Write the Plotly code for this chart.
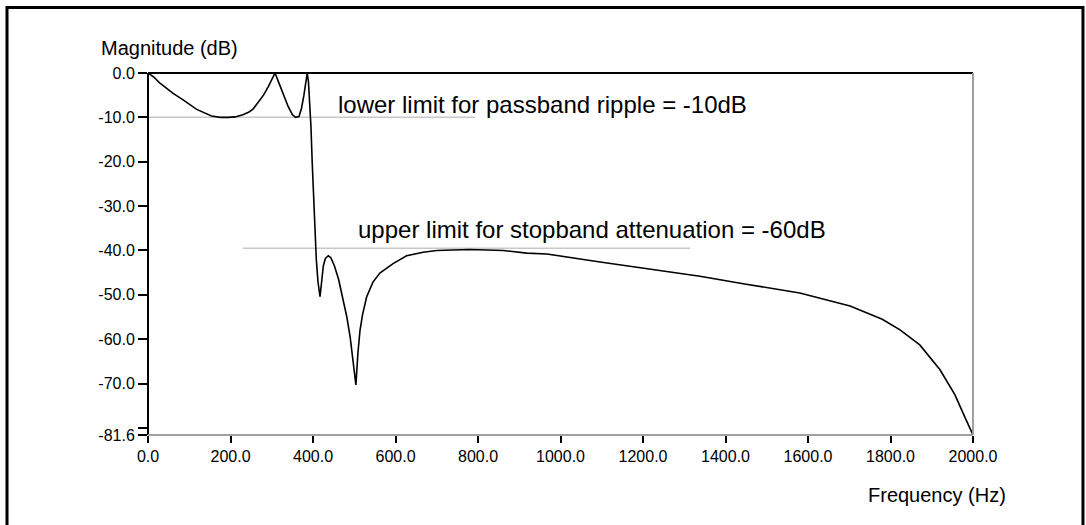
import plotly.graph_objects as go

# Filter magnitude response
freq_hz = [0, 15, 29, 45, 61, 86, 118, 154, 175, 195, 211, 230, 245, 255, 268, 280, 292, 300, 308,
           318, 328, 340, 350, 358, 366, 372, 378, 383, 386,
           389, 392, 395, 398, 401, 404, 408, 412, 417, 421, 425, 430, 437, 443, 452, 462, 472, 482,
           490, 497, 504, 509, 514, 520, 530, 545, 562, 595, 627, 667, 700, 780, 861, 918, 967,
           1096, 1200, 1338, 1450, 1580, 1702, 1780, 1823, 1871, 1920, 1956, 1980, 2000]
magnitude_db = [0, -1.0, -2.3, -3.5, -4.6, -6.1, -8.2, -9.7, -10.0, -10.0, -9.9, -9.4, -8.8, -8.1, -6.6, -5.0, -3.0, -1.6, 0,
                -2.4, -4.8, -7.6, -9.4, -10.0, -9.8, -8.0, -5.0, -2.0, 0,
                -2, -6, -12, -20, -28, -35, -42, -47, -50.4, -47, -43.5, -41.8, -41.2, -41.6, -43.5, -46.5, -50.5, -55,
                -59.5, -64.5, -70.3, -63, -58, -54.5, -50.5, -47.2, -45.1, -42.9, -41.2, -40.4, -40.0, -39.8, -40.0, -40.6, -40.8,
                -42.6, -44.0, -45.8, -47.6, -49.6, -52.5, -55.5, -57.9, -61.3, -66.9, -72.5, -77.5, -81.6]

# Limit lines
passband_limit_x = [0, 793]
passband_limit_y = [-10, -10]
stopband_limit_x = [230, 1314]
stopband_limit_y = [-39.5, -39.5]

x_tickvals = [0, 200, 400, 600, 800, 1000, 1200, 1400, 1600, 1800, 2000]
x_ticktext = ["0.0", "200.0", "400.0", "600.0", "800.0", "1000.0", "1200.0", "1400.0", "1600.0", "1800.0", "2000.0"]
y_tickvals = [0, -10, -20, -30, -40, -50, -60, -70, -80, -81.6]
y_ticktext = ["0.0", "-10.0", "-20.0", "-30.0", "-40.0", "-50.0", "-60.0", "-70.0", "", "-81.6"]

FONT = "Liberation Sans, Arial, sans-serif"

fig = go.Figure()
fig.add_trace(go.Scatter(x=passband_limit_x, y=passband_limit_y, mode="lines",
                         line=dict(color="#c8c8c8", width=1.5), hoverinfo="skip", showlegend=False))
fig.add_trace(go.Scatter(x=stopband_limit_x, y=stopband_limit_y, mode="lines",
                         line=dict(color="#c8c8c8", width=1.5), hoverinfo="skip", showlegend=False))
fig.add_trace(go.Scatter(x=freq_hz, y=magnitude_db, mode="lines",
                         line=dict(color="black", width=1.6), showlegend=False))

fig.update_layout(
    width=1086, height=525,
    margin=dict(l=148, r=113, t=73, b=90),
    paper_bgcolor="white", plot_bgcolor="white",
    font=dict(family=FONT, size=16, color="black"),
    xaxis=dict(range=[0, 2000], tickvals=x_tickvals, ticktext=x_ticktext, showgrid=False,
               zeroline=False, showline=False, ticks="outside", ticklen=7, tickwidth=1.5,
               tickcolor="black", tickfont=dict(size=16)),
    yaxis=dict(range=[-81.6, 0], tickvals=y_tickvals, ticktext=y_ticktext, showgrid=False,
               zeroline=False, showline=False, ticks="outside", ticklen=9, tickwidth=1.5,
               tickcolor="black", tickfont=dict(size=16)),
    shapes=[
        dict(type="line", xref="paper", yref="paper", x0=0, x1=1, y0=1, y1=1, line=dict(color="black", width=2)),
        dict(type="line", xref="paper", yref="paper", x0=0, x1=0, y0=0, y1=1, line=dict(color="black", width=2)),
        dict(type="line", xref="paper", yref="paper", x0=1, x1=1, y0=0, y1=1, line=dict(color="#a0a0a0", width=2)),
        dict(type="line", xref="paper", yref="paper", x0=0, x1=1, y0=0, y1=0, line=dict(color="#a0a0a0", width=2)),
        dict(type="rect", xref="paper", yref="paper", x0=-0.1709, x1=1.1333, y0=-0.27, y1=1.1808,
             line=dict(color="black", width=3), layer="below"),
    ],
    annotations=[
        dict(text="Magnitude (dB)", xref="paper", yref="paper", x=-0.0594, y=1.0704,
             xanchor="left", yanchor="middle", showarrow=False, font=dict(size=20)),
        dict(text="Frequency (Hz)", xref="paper", yref="paper", x=1.0424, y=-0.1657,
             xanchor="right", yanchor="middle", showarrow=False, font=dict(size=20)),
        dict(text="lower limit for passband ripple = -10dB", xref="x", yref="y", x=456, y=-7.1,
             xanchor="left", yanchor="middle", showarrow=False, font=dict(size=24)),
        dict(text="upper limit for stopband attenuation = -60dB", xref="x", yref="y", x=505, y=-35.3,
             xanchor="left", yanchor="middle", showarrow=False, font=dict(size=24)),
    ],
)

fig.write_html("out.html", config={"displayModeBar": False},
               post_script="document.body.style.margin='0';document.body.style.overflow='hidden';")
